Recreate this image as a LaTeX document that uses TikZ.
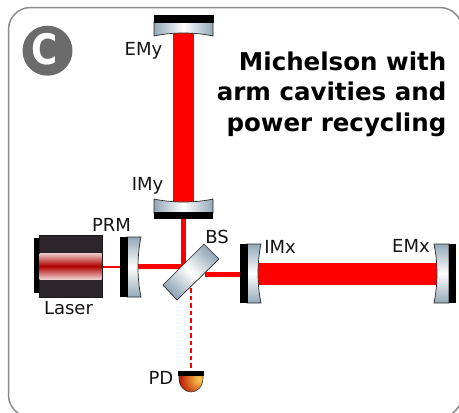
\documentclass[tikz,border=0pt]{standalone}
\usepackage{fontspec}
\setmainfont{DejaVu Sans}
\definecolor{steel}{RGB}{146,168,184}
\definecolor{lasdark}{RGB}{44,38,44}
\definecolor{lasedge}{RGB}{240,205,205}
\definecolor{lasmid}{RGB}{175,0,0}
\definecolor{pddark}{RGB}{185,25,5}
\definecolor{pdlight}{RGB}{252,205,80}
\tikzset{
 x=1pt,y=-1pt,
 lbl/.style={inner sep=0pt,anchor=base,font=\fontsize{18}{20}\selectfont,text=black!92},
 title/.style={inner sep=0pt,font=\fontsize{24.5}{30.5}\bfseries\selectfont,align=right,anchor=north east},
 glassv/.style={draw=black!85,line width=0.7pt,top color=steel,bottom color=steel,middle color=white},
 glassh/.style={draw=black!85,line width=0.7pt,left color=steel,right color=steel,middle color=white},
 coat/.style={fill=black},
 beamfill/.style={fill=red},
}
\begin{document}
\begin{tikzpicture}
\useasboundingbox (0,0) rectangle (459,413);
\begin{scope}
\clip (0,0) rectangle (459,413);
\draw[black!45,line width=1.5pt,rounded corners=22pt] (8.5,7.5) -- (462,7.5) -- (462,417) -- (8.5,417) -- cycle;
\end{scope}
% beams
\fill[beamfill] (173,33) rectangle (194,203);
\fill[beamfill] (181,215) rectangle (186,269);
\fill[beamfill] (102,266) rectangle (120,268);
\fill[beamfill] (138,264) rectangle (186,269);
\fill[beamfill] (205,272) rectangle (241,277);
\fill[beamfill] (258,263) rectangle (438,285);
\draw[red,line width=2.4pt,dash pattern=on 4.5pt off 3pt] (191,288) -- (191,372);
% C badge
\node[circle,fill=black!58,minimum size=50pt,inner sep=0pt] (badge) at (47.5,50.7) {};
\node[inner sep=0pt,text=white,font=\fontsize{42}{44}\bfseries\selectfont,xscale=0.85] (c) at (44.5,49.5) {C};
% EMy
\path[glassh] (154,22) -- (213,22) -- (213,36) .. controls (195,32) and (172,32) .. (154,36) -- cycle;
\fill[coat] (153.5,15) rectangle (213.5,22.5);
% IMy
\path[glassh] (154,199) .. controls (172,203) and (195,203) .. (213,199) -- (213,213) -- (154,213) -- cycle;
\fill[coat] (154,212) rectangle (213,219);
% PRM
\path[glassv] (127,237) -- (141,237) .. controls (137,256) and (137,278) .. (141,297) -- (127,297) -- cycle;
\fill[coat] (120,237) rectangle (127.5,297);
% BS
\path[glassv,shading angle=-42] (163,285) -- (204,244) -- (219,259) -- (177,300) -- cycle;
% IMx
\path[glassv] (247,244) -- (261,244) .. controls (257,263) and (257,284) .. (261,303) -- (247,303) -- cycle;
\fill[coat] (240,244) rectangle (247.5,303);
% EMx
\path[glassv] (434,244) .. controls (438,263) and (438,284) .. (434,303) -- (449,303) -- (449,244) -- cycle;
\fill[coat] (448.5,244) rectangle (456,303);
% Laser
\fill[black] (34,238) rectangle (40,293);
\fill[lasdark,draw=black!90] (39,235.5) rectangle (102,297);
\shade[top color=lasedge,bottom color=lasedge,middle color=lasmid] (39.5,253) rectangle (101.5,279);
% PD
\begin{scope}
\clip (179,373) -- (203,373) -- (203,378) .. controls (203,387) and (197,392) .. (191,392) .. controls (185,392) and (179,387) .. (179,378) -- cycle;
\shade[inner color=pdlight,outer color=pddark] (199,379) circle (20pt);
\fill[pddark] (179,373) rectangle (181,392);
\end{scope}
\draw[black!75,line width=0.6pt] (179,373) -- (203,373) -- (203,378) .. controls (203,387) and (197,392) .. (191,392) .. controls (185,392) and (179,387) .. (179,378) -- cycle;
\fill[coat] (178,371) rectangle (204,376);
% labels
\node[lbl] (emy) at (143.5,55) {EMy};
\node[lbl] (imy) at (147.5,190) {IMy};
\node[lbl] (prm) at (111.5,231) {PRM};
\node[lbl] (bs) at (217,243) {BS};
\node[lbl] (imx) at (280,253) {IMx};
\node[lbl] (emx) at (411,252) {EMx};
\node[lbl] (laser) at (68.5,314) {Laser};
\node[lbl] (pd) at (161,384) {PD};
\node[title] (t) at (446.5,51.5) {Michelson with\\arm cavities and\\power recycling};
\end{tikzpicture}
\end{document}
